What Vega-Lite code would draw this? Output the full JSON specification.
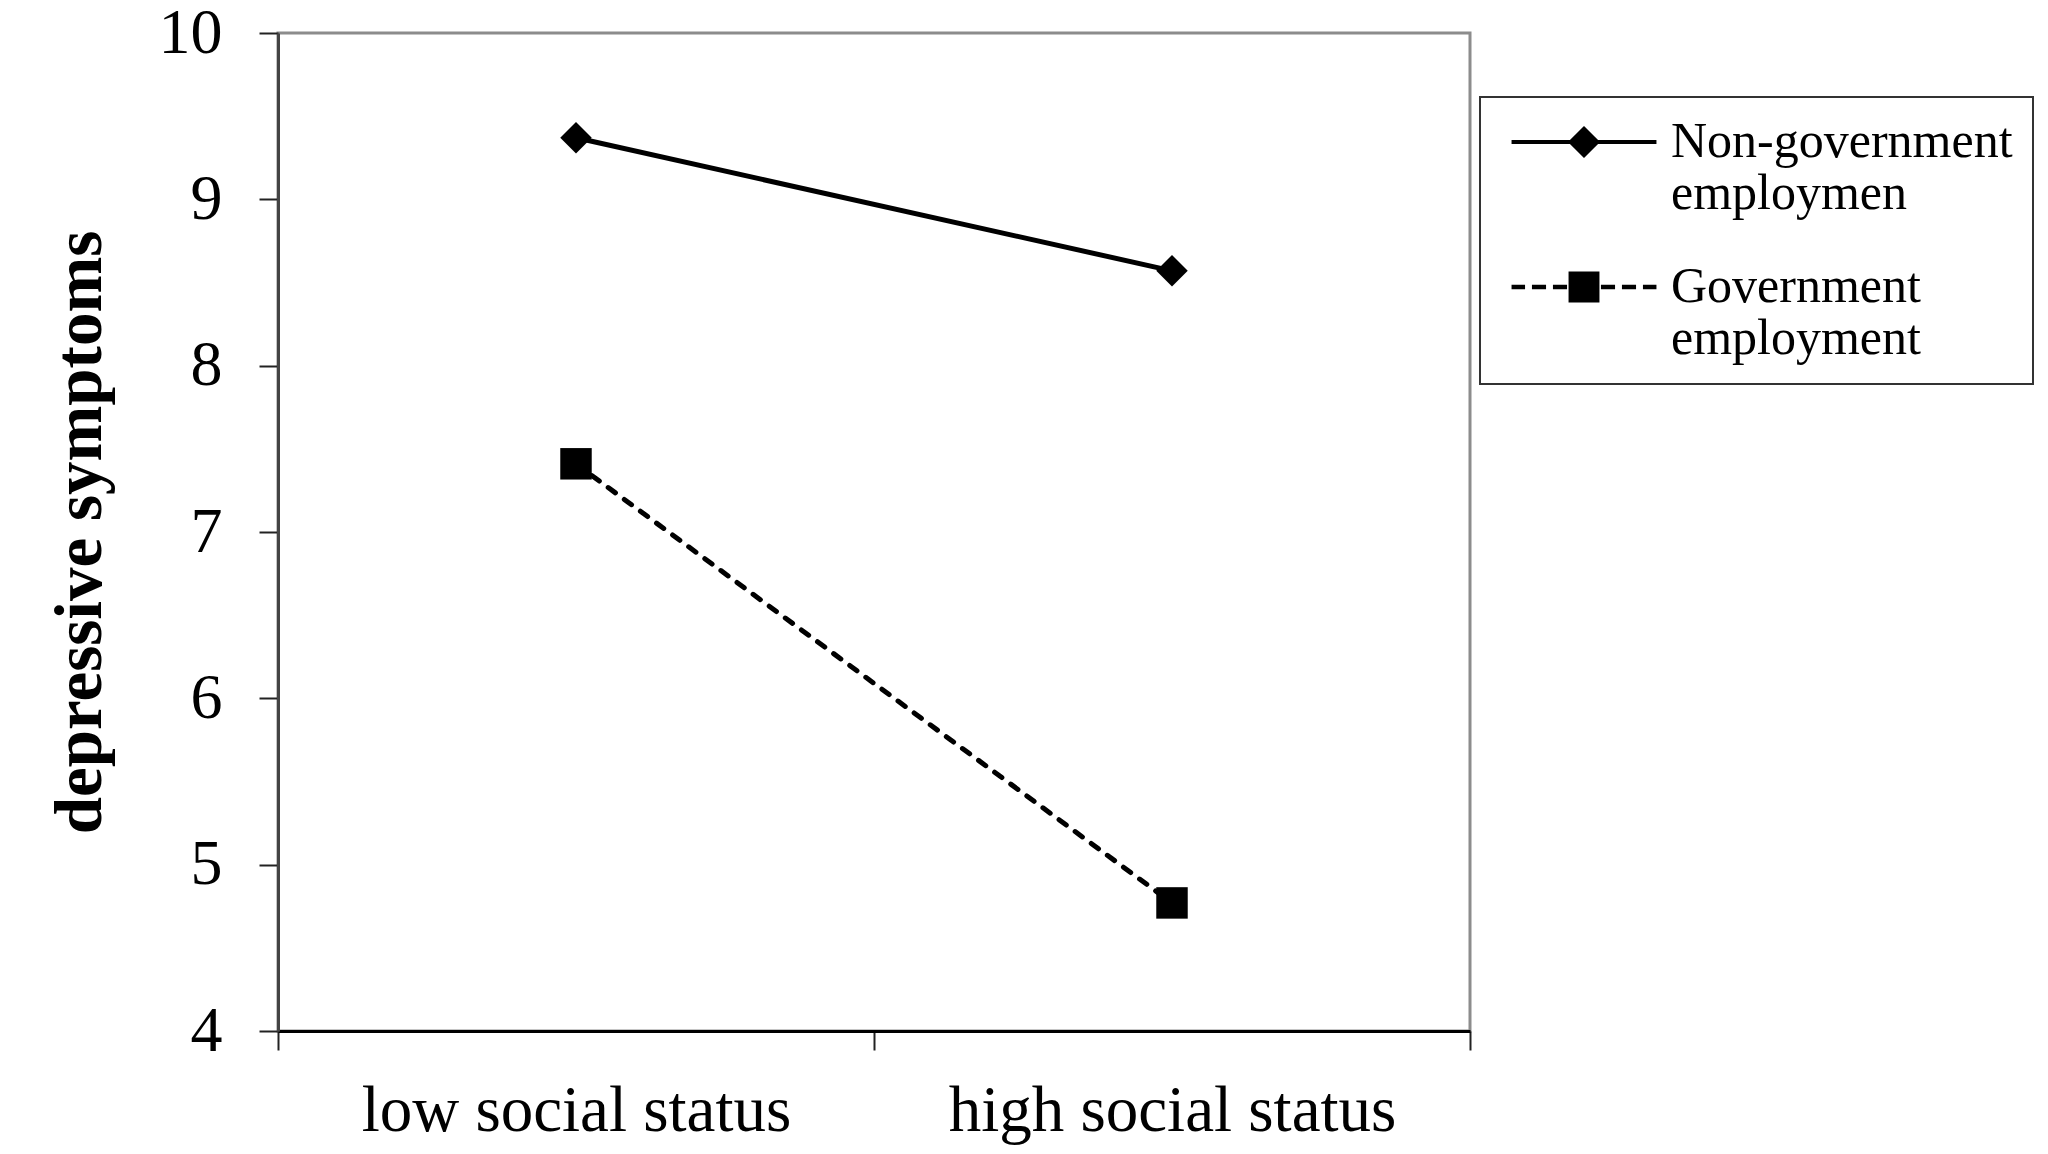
{
  "$schema": "https://vega.github.io/schema/vega-lite/v6.json",
  "width": 1192,
  "height": 998,
  "autosize": {"type": "none"},
  "padding": {"left": 278, "top": 33, "right": 578, "bottom": 123},
  "background": "white",
  "config": {
    "font": "Liberation Serif, Times New Roman, serif",
    "view": {"stroke": "#8c8c8c", "strokeWidth": 3},
    "legend": {"strokeWidth": 2}
  },
  "data": {
    "values": [
      {"status": "low social status", "group": "Non-government employmen", "symptoms": 9.37},
      {"status": "high social status", "group": "Non-government employmen", "symptoms": 8.57},
      {"status": "low social status", "group": "Government employment", "symptoms": 7.41},
      {"status": "high social status", "group": "Government employment", "symptoms": 4.77}
    ]
  },
  "encoding": {
    "x": {
      "field": "status",
      "type": "nominal",
      "sort": ["low social status", "high social status"],
      "bandPosition": 0.5,
      "scale": {"type": "band", "paddingInner": 0, "paddingOuter": 0},
      "axis": {
        "title": null,
        "labelAngle": 0,
        "labelLimit": 0,
        "tickBand": "extent",
        "labelFontSize": 65,
        "labelColor": "black",
        "labelPadding": 29,
        "ticks": true,
        "tickSize": 19,
        "tickColor": "#222",
        "tickWidth": 2,
        "domainColor": "black",
        "domainWidth": 3,
        "grid": false
      }
    },
    "y": {
      "field": "symptoms",
      "type": "quantitative",
      "scale": {"domain": [4, 10], "nice": false, "zero": false},
      "axis": {
        "title": "depressive symptoms",
        "values": [4, 5, 6, 7, 8, 9, 10],
        "grid": false,
        "labelFontSize": 64,
        "labelColor": "black",
        "labelPadding": 37,
        "ticks": true,
        "tickSize": 19,
        "tickColor": "#222",
        "tickWidth": 2,
        "domainColor": "#444",
        "domainWidth": 3,
        "titleFontSize": 67,
        "titleFontWeight": "bold",
        "titleColor": "black",
        "titlePadding": 44
      }
    }
  },
  "layer": [
    {
      "transform": [{"filter": "datum.group == 'Non-government employmen'"}],
      "mark": {"type": "line", "color": "black", "strokeWidth": 5},
      "encoding": {}
    },
    {
      "transform": [{"filter": "datum.group == 'Government employment'"}],
      "mark": {"type": "line", "color": "black", "strokeWidth": 5, "strokeCap": "round", "strokeDash": [9, 11]},
      "encoding": {}
    },
    {
      "mark": {"type": "point", "filled": true, "color": "black", "opacity": 1, "size": 990, "strokeWidth": 0},
      "encoding": {
        "shape": {
          "field": "group",
          "type": "nominal",
          "scale": {
            "domain": ["Non-government employmen", "Government employment"],
            "range": ["diamond", "square"]
          },
          "legend": null
        }
      }
    },
    {
      "transform": [{"filter": "datum.symptoms > 100"}],
      "mark": {"type": "point", "filled": true, "color": "black", "opacity": 1},
      "encoding": {
        "shape": {
          "field": "group",
          "type": "nominal",
          "scale": {
            "domain": ["Non-government employmen", "Government employment"],
            "range": [
              "M-4.83,-0.14H4.83V0.14H-4.83ZM0,-1.07L1.07,0L0,1.07L-1.07,0Z",
              "M-1.03,-1.03H1.03V1.03H-1.03ZM-4.83,-0.15H-3.93V0.15H-4.83ZM-3.47,-0.15H-2.53V0.15H-3.47ZM-2.07,-0.15H-1.13V0.15H-2.07ZM1.13,-0.15H2.07V0.15H1.13ZM2.53,-0.15H3.47V0.15H2.53ZM3.93,-0.15H4.83V0.15H3.93Z"
            ]
          },
          "legend": {
            "title": null,
            "orient": "none",
            "legendX": 1202,
            "legendY": 64,
            "padding": 20,
            "strokeColor": "#333",
            "fillColor": "white",
            "symbolSize": 900,
            "symbolOffset": 59,
            "symbolFillColor": "black",
            "symbolStrokeWidth": 0,
            "symbolOpacity": 1,
            "labelFontSize": 50,
            "labelColor": "black",
            "labelOffset": 62,
            "labelLimit": 0,
            "rowPadding": 43,
            "labelExpr": "split(datum.label, ' ')"
          }
        }
      }
    }
  ],
  "resolve": {"scale": {"shape": "independent"}}
}
